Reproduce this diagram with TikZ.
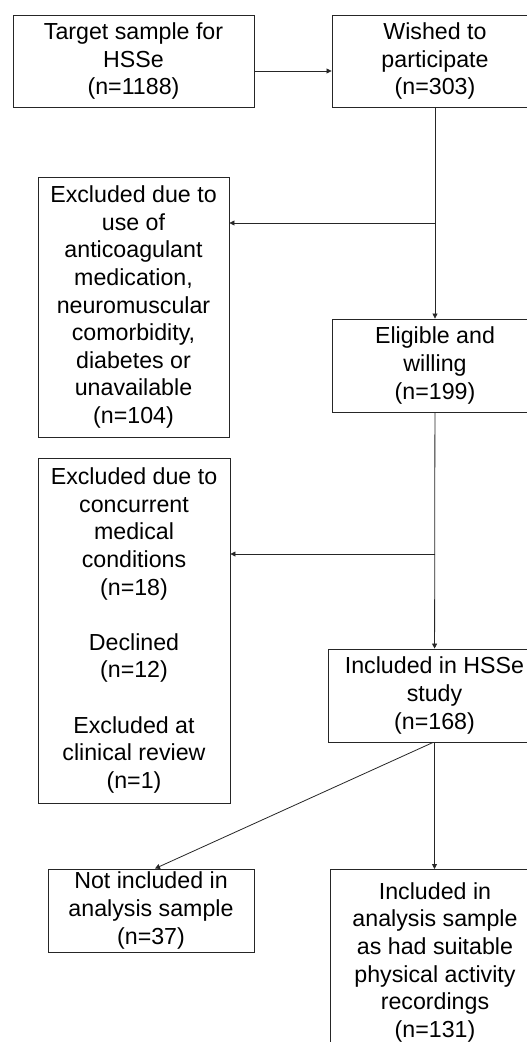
\documentclass[tikz,border=0pt]{standalone}
\usepackage{fontspec}
\setmainfont{Liberation Sans}
\usetikzlibrary{arrows.meta}

\begin{document}
\begin{tikzpicture}[x=1pt,y=-1pt,
  box/.style={draw=black!85, line width=0.9pt, align=center, inner sep=0pt,
    font=\fontsize{23.2}{27.6}\selectfont},
  arr/.style={draw=black!85, line width=0.8pt, -{Triangle[length=5pt,width=5pt]}}]
\clip (0,0) rectangle (527,1042);
\fill[white] (0,0) rectangle (527,1042);

% top row
\node[box, minimum width=241, minimum height=92] (target) at (133.5,61) {Target sample for\\HSSe\\(n=1188)};
\node[box, minimum width=206, minimum height=92] (wished) at (435,61) {Wished to\\participate\\(n=303)};

% exclusions on the left
\node[box, minimum width=191, minimum height=260] (excl1) at (133.5,307) {Excluded due to\\use of\\anticoagulant\\medication,\\neuromuscular\\comorbidity,\\diabetes or\\unavailable\\(n=104)};
\node[box, minimum width=192, minimum height=345] (excl2) at (134,630.5) {Excluded due to\\concurrent\\medical\\conditions\\(n=18)\\[27.6pt]Declined\\(n=12)\\[27.6pt]Excluded at\\clinical review\\(n=1)};

% main column
\node[box, minimum width=206, minimum height=93] (eligible) at (435,365.5) {Eligible and\\willing\\(n=199)};
\node[box, minimum width=213, minimum height=93] (included) at (434.5,695.5) {Included in HSSe\\study\\(n=168)};

% bottom row
\node[box, minimum width=206, minimum height=83] (notincl) at (151,910.5) {Not included in\\analysis sample\\(n=37)};
\node[box, minimum width=210, inner ysep=13, anchor=north] (analysis) at (435,869) {Included in\\analysis sample\\as had suitable\\physical activity\\recordings\\(n=131)};

% branch points
\coordinate (j1) at (435,223);
\coordinate (j2) at (435,554);

\draw[arr] ([yshift=-10pt]target.east) -- ([yshift=-10pt]target.east -| wished.west);
\draw[arr] (wished) -- (eligible);
\draw[arr] (j1) -- (j1 -| excl1.east);
\draw[arr] (eligible) -- (included);
\draw[arr] (j2) -- (j2 -| excl2.east);
\draw[arr] ([xshift=-1.5pt]included.south) -- ([xshift=4pt]notincl.north);
\draw[arr] (included.south) -- (included.south |- analysis.north);
\end{tikzpicture}
\end{document}
